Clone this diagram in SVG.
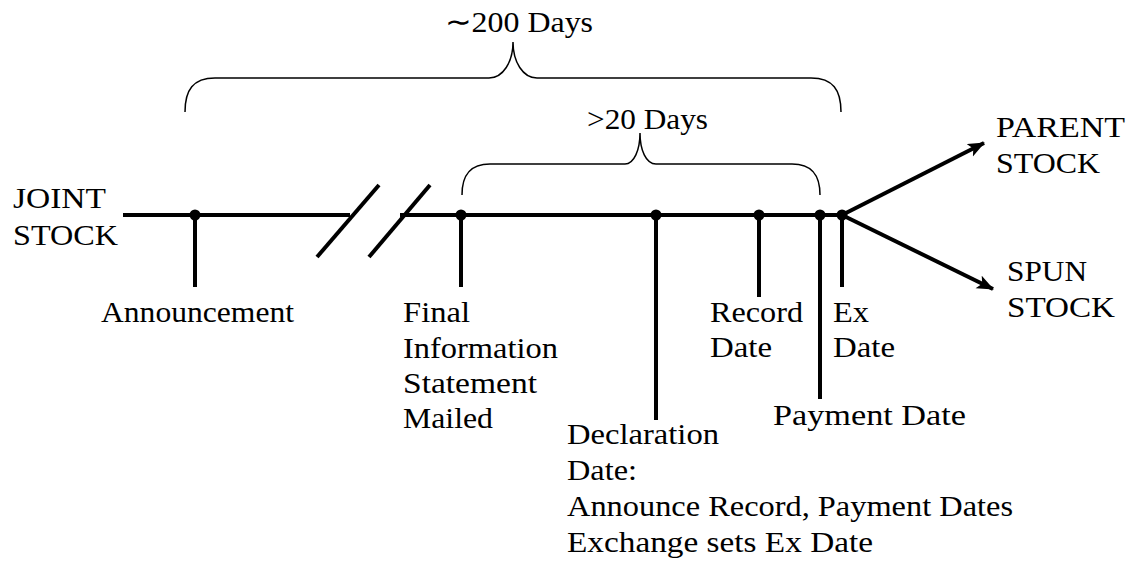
<svg xmlns="http://www.w3.org/2000/svg" width="1132" height="564" viewBox="0 0 1132 564">
<style>
.t text{font-size:30px;fill:#000;font-family:"Liberation Serif","Times New Roman",serif}
.thick{stroke:#000;stroke-width:4;fill:none}
.brace{stroke:#000;stroke-width:1.5;fill:none}
.dot{fill:#000}
</style>
<defs>
<marker id="ah" markerUnits="userSpaceOnUse" markerWidth="20" markerHeight="16" refX="16" refY="7" orient="auto">
<path d="M0,0 L17,7 L0,14 L4,7 Z" fill="#000"/>
</marker>
</defs>
<rect width="1132" height="564" fill="#fff"/>
<g id="connectors">
<line class="thick" x1="123" y1="215" x2="350" y2="215"/>
<line class="thick" x1="400" y1="215" x2="842" y2="215"/>
<line class="thick" x1="317" y1="257" x2="379" y2="185"/>
<line class="thick" x1="369" y1="257" x2="430" y2="185"/>
<line class="thick" x1="842" y1="215" x2="984" y2="143" marker-end="url(#ah)"/>
<line class="thick" x1="842" y1="215" x2="993" y2="289" marker-end="url(#ah)"/>
</g>
<g class="t">
<g id="brace-200">
<path class="brace" d="M185,112 C185,90 193,78 215,78 L489,78 C503,78 513,62 513,42 C513,62 523,78 537,78 L811,78 C833,78 841,90 841,112"/>
<text x="445" y="32" textLength="148" lengthAdjust="spacingAndGlyphs">∼200 Days</text>
</g>
<g id="brace-20">
<path class="brace" d="M462,195 C462,175 470,164 490,164 L625,164 C634,164 640,150 640,133 C640,150 646,164 656,164 L792,164 C812,164 820,175 820,195"/>
<text x="587" y="129" textLength="121" lengthAdjust="spacingAndGlyphs">&gt;20 Days</text>
</g>
<g id="joint">
<text x="13" y="208" textLength="93" lengthAdjust="spacingAndGlyphs">JOINT</text>
<text x="13" y="245" textLength="105" lengthAdjust="spacingAndGlyphs">STOCK</text>
</g>
<g id="announcement">
<line class="thick" x1="195" y1="215" x2="195" y2="287"/>
<circle class="dot" cx="195" cy="215" r="5.5"/>
<text x="101" y="322" textLength="193" lengthAdjust="spacingAndGlyphs">Announcement</text>
</g>
<g id="final">
<line class="thick" x1="461" y1="215" x2="461" y2="287"/>
<circle class="dot" cx="461" cy="215" r="5.5"/>
<text x="403" y="322" textLength="67" lengthAdjust="spacingAndGlyphs">Final</text>
<text x="403" y="358" textLength="155" lengthAdjust="spacingAndGlyphs">Information</text>
<text x="403" y="393" textLength="134" lengthAdjust="spacingAndGlyphs">Statement</text>
<text x="403" y="428" textLength="90" lengthAdjust="spacingAndGlyphs">Mailed</text>
</g>
<g id="declaration">
<line class="thick" x1="656" y1="215" x2="656" y2="420"/>
<circle class="dot" cx="656" cy="215" r="5.5"/>
<text x="567" y="444" textLength="152" lengthAdjust="spacingAndGlyphs">Declaration</text>
<text x="567" y="480" textLength="70" lengthAdjust="spacingAndGlyphs">Date:</text>
<text x="567" y="516" textLength="446" lengthAdjust="spacingAndGlyphs">Announce Record, Payment Dates</text>
<text x="567" y="552" textLength="306" lengthAdjust="spacingAndGlyphs">Exchange sets Ex Date</text>
</g>
<g id="record">
<line class="thick" x1="759" y1="215" x2="759" y2="297"/>
<circle class="dot" cx="759" cy="215" r="5.5"/>
<text x="710" y="322" textLength="93" lengthAdjust="spacingAndGlyphs">Record</text>
<text x="710" y="357" textLength="62" lengthAdjust="spacingAndGlyphs">Date</text>
</g>
<g id="payment">
<line class="thick" x1="820" y1="215" x2="820" y2="399"/>
<circle class="dot" cx="820" cy="215" r="5.5"/>
<text x="773" y="425" textLength="193" lengthAdjust="spacingAndGlyphs">Payment Date</text>
</g>
<g id="exdate">
<line class="thick" x1="842" y1="215" x2="842" y2="287"/>
<circle class="dot" cx="842" cy="215" r="5.5"/>
<text x="833" y="322" textLength="36" lengthAdjust="spacingAndGlyphs">Ex</text>
<text x="833" y="357" textLength="62" lengthAdjust="spacingAndGlyphs">Date</text>
</g>
<g id="parent">
<text x="996" y="137" textLength="129" lengthAdjust="spacingAndGlyphs">PARENT</text>
<text x="996" y="173" textLength="104" lengthAdjust="spacingAndGlyphs">STOCK</text>
</g>
<g id="spun">
<text x="1007" y="281" textLength="80" lengthAdjust="spacingAndGlyphs">SPUN</text>
<text x="1007" y="317" textLength="108" lengthAdjust="spacingAndGlyphs">STOCK</text>
</g>
</g>
</svg>
